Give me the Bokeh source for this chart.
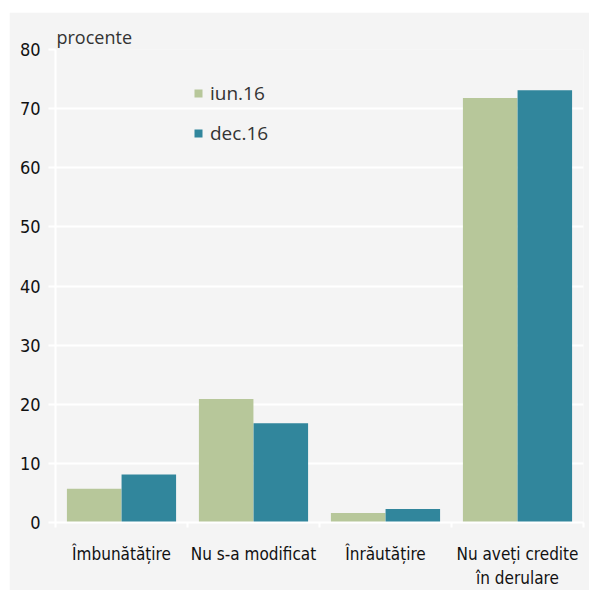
from bokeh.plotting import figure
from bokeh.models import (ColumnDataSource, FixedTicker, Range1d, Legend, LegendItem)
from bokeh.transform import dodge
from bokeh.embed import file_html
from bokeh.resources import INLINE

categories = ["Îmbunătățire", "Nu s-a modificat", "Înrăutățire", "Nu aveți credite\nîn derulare"]
iun16 = [5.7, 20.9, 1.6, 71.8]
dec16 = [8.1, 16.8, 2.3, 73.1]
series_names = ["iun.16", "dec.16"]
y_ticks = [0, 10, 20, 30, 40, 50, 60, 70, 80]

GREEN = "#b7c79a"
BLUE = "#31869c"
BG = "#f4f4f4"
FONT = "'DejaVu Sans Condensed', 'Liberation Sans Narrow', sans-serif"

xpos = [i + 0.5 for i in range(len(categories))]
src = ColumnDataSource(dict(x=xpos, iun=iun16, dec=dec16))

p = figure(width=580, height=578, output_backend="svg", toolbar_location=None,
           x_range=Range1d(0, len(categories)), y_range=Range1d(0, 80))
p.margin = (12, 0, 0, 9)
p.min_border_left = 46
p.min_border_right = 6
p.min_border_bottom = 67
p.min_border_top = 37
p.background_fill_color = BG
p.border_fill_color = BG
p.outline_line_color = None

p.title.text = "procente"
p.title.align = "left"
p.title.text_font = "Open Sans"
p.title.text_font_style = "normal"
p.title.text_font_size = "18px"
p.title.text_color = "#333333"
p.title.offset = 1
p.title.standoff = 2

r1 = p.vbar(x=dodge("x", -0.207), top="iun", width=0.413, bottom=0, source=src,
            fill_color=GREEN, line_color=None)
r2 = p.vbar(x=dodge("x", 0.207), top="dec", width=0.413, bottom=0, source=src,
            fill_color=BLUE, line_color=None)

# y axis
p.yaxis.ticker = FixedTicker(ticks=y_ticks)
p.yaxis.axis_line_color = "white"
p.yaxis.axis_line_width = 2
p.yaxis.major_tick_line_color = "white"
p.yaxis.major_tick_line_width = 2
p.yaxis.major_tick_out = 7
p.yaxis.major_tick_in = 0
p.yaxis.minor_tick_line_color = None
p.yaxis.major_label_text_font = FONT
p.yaxis.major_label_text_font_size = "18px"
p.yaxis.major_label_text_color = "#111111"
p.yaxis.major_label_standoff = 8

# x axis: labels at centers, ticks at boundaries
p.xaxis.ticker = FixedTicker(ticks=xpos, minor_ticks=list(range(len(categories) + 1)))
p.xaxis.major_label_overrides = {x: c for x, c in zip(xpos, categories)}
p.xaxis.axis_line_color = "white"
p.xaxis.axis_line_width = 2
p.xaxis.major_tick_line_color = None
p.xaxis.major_tick_out = 0
p.xaxis.major_tick_in = 0
p.xaxis.minor_tick_line_color = "white"
p.xaxis.minor_tick_line_width = 2
p.xaxis.minor_tick_out = 5
p.xaxis.minor_tick_in = 0
p.xaxis.major_label_text_font = FONT
p.xaxis.major_label_text_font_size = "17px"
p.xaxis.major_label_text_color = "#111111"
p.xaxis.major_label_standoff = 16

p.xgrid.grid_line_color = None
p.ygrid.grid_line_color = "white"
p.ygrid.grid_line_width = 2

legend = Legend(items=[LegendItem(label=series_names[0], renderers=[r1]),
                       LegendItem(label=series_names[1], renderers=[r2])],
                location=(138, 376))
legend.background_fill_alpha = 0
legend.border_line_color = None
legend.padding = 0
legend.margin = 0
legend.spacing = 14
legend.glyph_width = 10
legend.glyph_height = 10
legend.label_height = 20
legend.label_standoff = 7
legend.label_text_font = "Open Sans"
legend.label_text_font_size = "19px"
legend.label_text_color = "#333333"
p.add_layout(legend)

open("out.html", "w").write(file_html(p, INLINE))
